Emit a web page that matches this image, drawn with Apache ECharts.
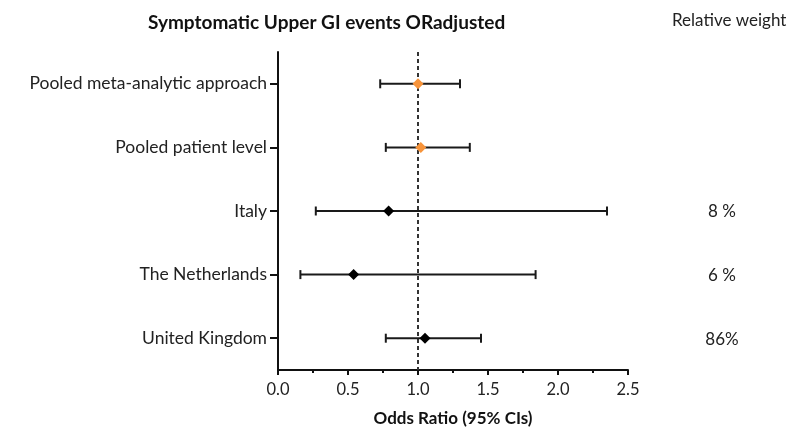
<!DOCTYPE html>
<html>
<head>
<meta charset="utf-8">
<script src="https://cdn.jsdelivr.net/npm/echarts@6/dist/echarts.min.js"></script>
<style>
  html, body { margin: 0; padding: 0; background: #fff; }
  #chart { width: 799px; height: 432px; }
</style>
</head>
<body>
<div id="chart"></div>
<script>
// Forest plot: adjusted odds ratios for symptomatic upper GI events
const categories = ['Pooled meta-analytic approach', 'Pooled patient level', 'Italy', 'The Netherlands', 'United Kingdom'];
const oddsRatio = [1.00, 1.02, 0.79, 0.54, 1.05];
const ciLower = [0.73, 0.77, 0.27, 0.16, 0.77];
const ciUpper = [1.30, 1.37, 2.35, 1.84, 1.45];
const isPooled = [true, true, false, false, false];
const relativeWeight = ['', '', '8 %', '6 %', '86%'];
const referenceOR = 1;
const xTicks = { min: 0, max: 2.5, interval: 0.5 };

const FONT = 'Lato, "Open Sans", sans-serif';
const ORANGE = '#F7943B';

const rows = categories.map((c, i) => [ciLower[i], ciUpper[i], oddsRatio[i], c]);

function renderItem(params, api) {
  const i = params.dataIndex;
  const lo = api.coord([api.value(0), categories[i]]);
  const hi = api.coord([api.value(1), categories[i]]);
  const mid = api.coord([api.value(2), categories[i]]);
  const y = lo[1];
  const cs = params.coordSys;
  const cap = 4.5;
  const lineStyle = { stroke: '#1a1a1a', lineWidth: 2 };
  const pooled = isPooled[i];
  const r = 5.5;
  const children = [];
  if (i === 0) {
    // null-effect reference line at OR = 1
    const xr = api.coord([referenceOR, categories[0]])[0];
    children.push({
      type: 'line',
      shape: { x1: xr, y1: cs.y, x2: xr, y2: cs.y + cs.height },
      style: { stroke: '#333', lineWidth: 2, lineDash: [4, 3] },
      z2: 0
    });
  }
  children.push(
    { type: 'line', shape: { x1: lo[0], y1: y, x2: hi[0], y2: y }, style: lineStyle, z2: 5 },
    { type: 'line', shape: { x1: lo[0], y1: y - cap, x2: lo[0], y2: y + cap }, style: lineStyle, z2: 5 },
    { type: 'line', shape: { x1: hi[0], y1: y - cap, x2: hi[0], y2: y + cap }, style: lineStyle, z2: 5 },
    {
      type: 'polygon',
      shape: { points: [[mid[0], y - r], [mid[0] + r, y], [mid[0], y + r], [mid[0] - r, y]] },
      style: { fill: pooled ? ORANGE : '#000' },
      z2: 10
    }
  );
  if (relativeWeight[i]) {
    children.push({
      type: 'text',
      style: {
        x: cs.x + cs.width + 94, y: y + 1,
        text: relativeWeight[i],
        fill: '#222', font: '17px ' + FONT,
        align: 'center', verticalAlign: 'middle'
      }
    });
  }
  return { type: 'group', children };
}

const chart = echarts.init(document.getElementById('chart'), null, { renderer: 'canvas' });
chart.setOption({
  animation: false,
  backgroundColor: '#fff',
  title: {
    text: 'Symptomatic Upper GI events ORadjusted',
    left: 143, top: 8,
    textStyle: { fontFamily: FONT, fontSize: 19, fontWeight: 'bold', color: '#111' }
  },
  graphic: [{
    type: 'text', left: 672, top: 12,
    style: { text: 'Relative weight', font: '17px ' + FONT, fill: '#222' }
  }],
  grid: { left: 278, right: 171, top: 52, bottom: 62 },
  xAxis: {
    type: 'value',
    min: xTicks.min, max: xTicks.max, interval: xTicks.interval,
    name: 'Odds Ratio (95% CIs)',
    nameLocation: 'middle', nameGap: 40,
    nameTextStyle: { fontFamily: FONT, fontSize: 17, fontWeight: 'bold', color: '#111' },
    axisLine: { show: true, onZero: false, lineStyle: { color: '#111', width: 2 } },
    axisTick: { show: true, length: 5, lineStyle: { color: '#111', width: 2 } },
    minorTick: { show: true, splitNumber: 2, length: 3, lineStyle: { color: '#111', width: 2 } },
    splitLine: { show: false },
    axisLabel: {
      fontFamily: FONT, fontSize: 16.5, color: '#222', margin: 11,
      formatter: v => v.toFixed(1)
    }
  },
  yAxis: {
    type: 'category',
    data: categories,
    inverse: true,
    axisLine: { show: true, lineStyle: { color: '#111', width: 2 } },
    axisTick: { show: true, alignWithLabel: true, length: 8, lineStyle: { color: '#111', width: 2 } },
    axisLabel: { fontFamily: FONT, fontSize: 17.5, color: '#222', margin: 11 },
    splitLine: { show: false }
  },
  series: [{
    type: 'custom',
    renderItem,
    encode: { x: [0, 1, 2], y: 3 },
    data: rows,
    clip: false
  }]
});
</script>
</body>
</html>
